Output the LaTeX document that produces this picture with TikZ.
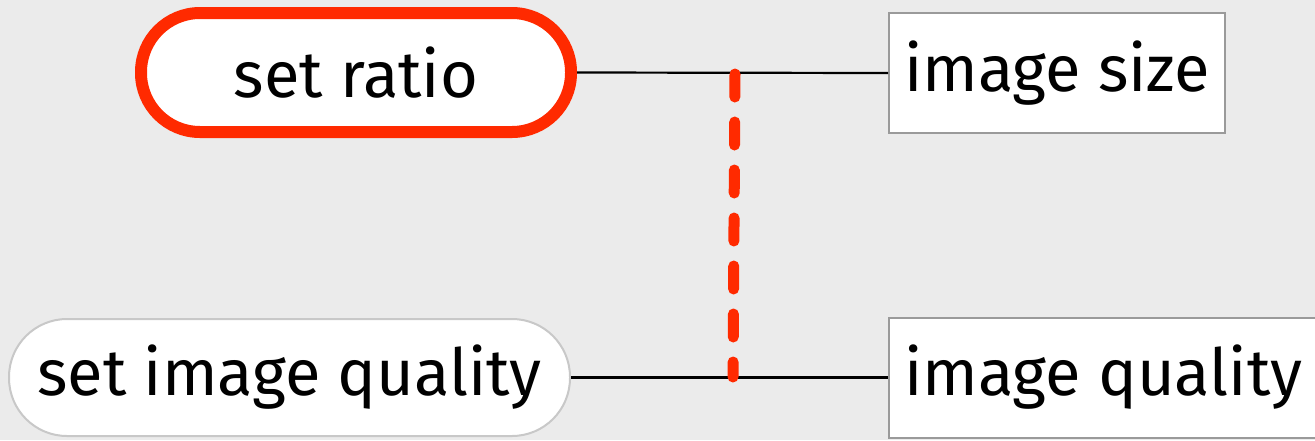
\documentclass[tikz,border=0pt]{standalone}
\usepackage{fontspec}
\setmainfont{Fira Sans}
\definecolor{bg}{HTML}{EBEBEB}
\definecolor{hired}{HTML}{FF2A00}
\definecolor{pillgray}{HTML}{C8C8C8}
\definecolor{boxgray}{HTML}{9A9A9A}
\begin{document}
\begin{tikzpicture}[x=1pt,y=-1pt,
  lbl/.style={font=\fontsize{65}{72}\selectfont},
  pill/.style={lbl,draw=pillgray,line width=2pt,fill=white,rounded corners=58pt,inner sep=0pt},
  hipill/.style={pill,draw=hired,line width=12pt,rounded corners=59pt},
  infobox/.style={lbl,draw=boxgray,line width=2pt,fill=white,anchor=west,inner xsep=15pt,inner ysep=0pt,minimum height=120pt},
  link/.style={black,line width=2.2pt},
  hilink/.style={hired,line width=11pt,line cap=round,dash pattern=on 23pt off 25pt}]
\useasboundingbox[fill=bg] (0,0) rectangle (1315,440);
\node[hipill,minimum width=430pt,minimum height=119pt] (ratio) at (356,72.5) {set ratio};
\node[pill,minimum width=561pt,minimum height=117pt] (quality) at (289.5,377.5) {set image quality};
\node[infobox] (size) at (888,73) {image size};
\node[infobox] (iq) at (888,377.5) {image quality};
\draw[link] (ratio.east) -- (size.west);
\draw[link] (quality.east) -- (iq.west);
\coordinate (dtop) at (735,74);
\coordinate (dbot) at (733,377);
\draw[hilink] (dtop) -- (dbot);
\end{tikzpicture}
\end{document}
